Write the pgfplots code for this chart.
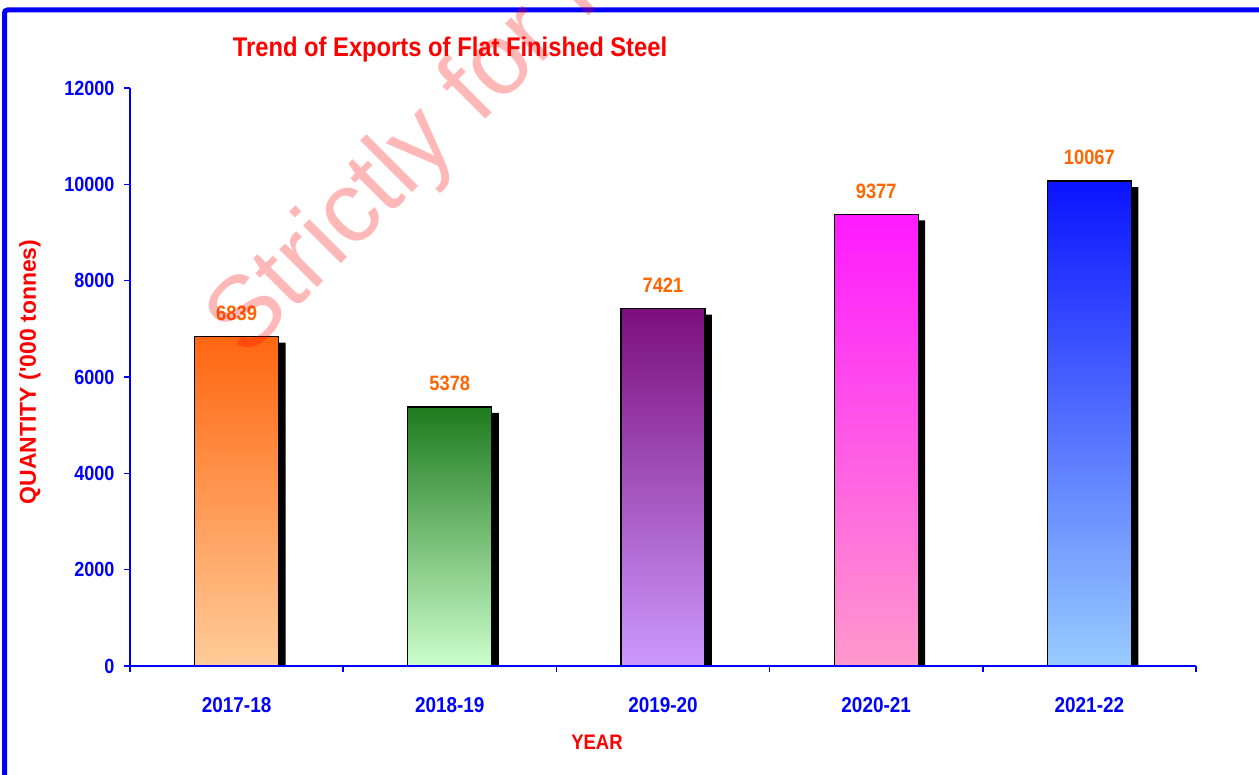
\documentclass[border=0pt]{standalone}
\usepackage{fontspec}
\setmainfont{Liberation Sans}[FakeStretch=0.88]
\newfontfamily\plainsans{Liberation Sans}
\usepackage{pgfplots}
\pgfplotsset{compat=1.18}
\definecolor{axblue}{RGB}{0,0,255}
\definecolor{lblorange}{RGB}{255,102,0}
\definecolor{aT}{RGB}{255,102,16}\definecolor{aB}{RGB}{255,204,153}
\definecolor{bT}{RGB}{30,123,30}\definecolor{bB}{RGB}{204,255,204}
\definecolor{cT}{RGB}{123,15,123}\definecolor{cB}{RGB}{204,153,255}
\definecolor{dT}{RGB}{255,26,255}\definecolor{dB}{RGB}{255,153,204}
\definecolor{eT}{RGB}{10,20,255}\definecolor{eB}{RGB}{153,204,255}
\begin{document}
\begin{tikzpicture}[x=1pt,y=1pt]
\useasboundingbox (0,0) rectangle (1259,775);
\fill[white] (0,0) rectangle (1259,775);
\begin{axis}[
  at={(130pt,109pt)}, anchor=south west,
  scale only axis, width=1066pt, height=578pt,
  xmin=-0.5, xmax=4.5, ymin=0, ymax=12000,
  axis lines=left, axis line style={-, draw=axblue, line width=2pt},
  axis on top,
  scaled y ticks=false,
  ytick={0,2000,4000,6000,8000,10000,12000},
  xtick={0,1,2,3,4},
  xticklabels={2017-18,2018-19,2019-20,2020-21,2021-22},
  minor xtick={-0.5,0.5,1.5,2.5,3.5,4.5},
  tick align=outside,
  major tick length=6pt, minor tick length=6pt,
  major x tick style={draw=none},
  minor x tick style={draw=axblue, line width=1.5pt},
  ytick style={draw=axblue, line width=1.5pt},
  /pgf/number format/assume math mode=true,
  /pgf/number format/1000 sep={},
  yticklabel style={font=\bfseries\fontsize{20.5}{20.5}\selectfont, text=axblue, xshift=-6pt, /pgf/number format/fixed},
  xticklabel style={font=\bfseries\fontsize{21.5}{21.5}\selectfont, text=axblue, yshift=-22pt},
  ybar, bar width=84pt,
  lbl/.style={nodes near coords, every node near coord/.append style={font=\bfseries\fontsize{20.8}{20.8}\selectfont, text=lblorange, yshift=12pt}},
]
\addplot[fill=black, draw=none, bar shift=7pt, yshift=-6pt] coordinates {(0,6839) (1,5378) (2,7421) (3,9377) (4,10067)};
\addplot[bar shift=0pt, draw=black, line width=1.2pt, top color=aT, bottom color=aB, lbl] coordinates {(0,6839)};
\addplot[bar shift=0pt, draw=black, line width=1.2pt, top color=bT, bottom color=bB, lbl] coordinates {(1,5378)};
\addplot[bar shift=0pt, draw=black, line width=1.2pt, top color=cT, bottom color=cB, lbl] coordinates {(2,7421)};
\addplot[bar shift=0pt, draw=black, line width=1.2pt, top color=dT, bottom color=dB, lbl] coordinates {(3,9377)};
\addplot[bar shift=0pt, draw=black, line width=1.2pt, top color=eT, bottom color=eB, lbl] coordinates {(4,10067)};
\end{axis}
\node[anchor=base, text=red, font=\bfseries\fontsize{27}{27}\selectfont] at (450,718) {Trend of Exports of Flat Finished Steel};
\node[rotate=90, text=red, font=\plainsans\bfseries\fontsize{23}{23}\selectfont] at (30,403) {QUANTITY ('000 tonnes)};
\node[text=red, font=\bfseries\fontsize{21}{21}\selectfont] at (597,33) {YEAR};
\draw[axblue, line width=5pt, rounded corners=3pt] (4.5,-10) -- (4.5,765) -- (1270,765);
\begin{scope}
\clip (0,0) rectangle (1259,775);
\node[rotate=45, anchor=base west, text=red, opacity=0.28, inner sep=0pt, font=\plainsans\fontsize{101}{101}\selectfont] at (245,415) {Strictly for Internal Circulation};
\end{scope}
\end{tikzpicture}
\end{document}
